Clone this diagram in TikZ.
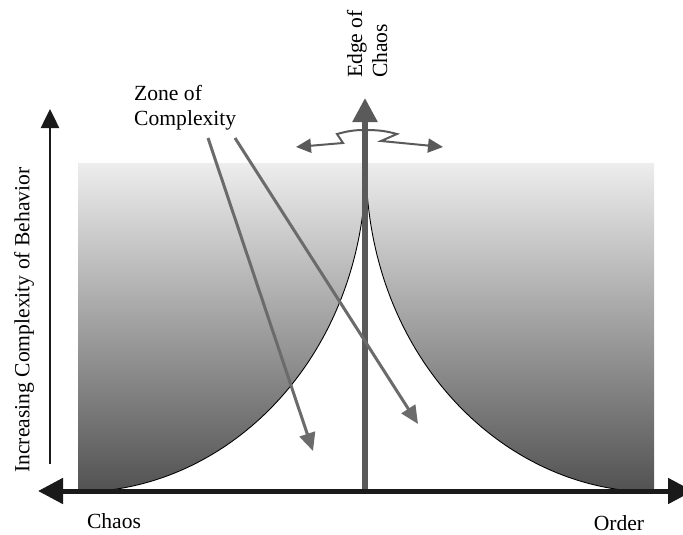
\documentclass[tikz,border=0pt]{standalone}
\usepackage{fontspec}
\setmainfont{Liberation Serif}
\usetikzlibrary{arrows.meta}
\definecolor{cgray}{HTML}{5A5A5A}
\definecolor{dgray}{HTML}{6B6B6B}
\definecolor{axisblack}{HTML}{1A1A1A}
\begin{document}
\begin{tikzpicture}[x=1pt,y=-1pt,
  lbl/.style={font=\fontsize{21.6}{25}\selectfont, inner sep=0pt},
  curveline/.style={black, line width=0.9pt},
  diagarrow/.style={dgray, line width=3pt, -{Triangle[length=18pt,width=16pt]}},
  squig/.style={cgray, line width=2pt, -{Triangle[length=15pt,width=14pt]}}]
\useasboundingbox (0,0) rectangle (683,535);
% shaded field
\shade[top color=black!7, middle color=black!32, bottom color=black!68] (78,163) rectangle (654,492);
% coordinates
\coordinate (bl) at (78,492);
\coordinate (br) at (654,492);
\coordinate (cusp) at (366,163);
\coordinate (cbot) at (365,491);
\coordinate (ctop) at (365,98);
\coordinate (sq) at (365,130);
\coordinate (ltip) at (296,147);
\coordinate (rtip) at (443,147);
\coordinate (a1s) at (208,138);
\coordinate (a1e) at (313,451);
\coordinate (a2s) at (235,138);
\coordinate (a2e) at (418,424);
\coordinate (hl) at (38,491);
\coordinate (hr) at (693,491);
\coordinate (vb) at (50,464);
\coordinate (vt) at (50,109);
% white zone between the curves
\fill[white] (bl) .. controls (230,492) and (366,355) .. (cusp)
  .. controls (366,355) and (502,492) .. (br) -- cycle;
\draw[curveline] (bl) .. controls (230,492) and (366,355) .. (cusp);
\draw[curveline] (br) .. controls (502,492) and (366,355) .. (cusp);
% edge of chaos axis
\draw[cgray, line width=5.5pt, -{Triangle[length=24pt,width=24pt]}] (cbot) -- (ctop);
\draw[squig] (sq) to[out=180,in=15] (337,134) -- (343,143) -- (ltip);
\draw[squig] (sq) to[out=0,in=165] (397,134) -- (381,141) -- (rtip);
% zone arrows
\draw[diagarrow] (a1s) -- (a1e);
\draw[diagarrow] (a2s) -- (a2e);
% axes
\draw[axisblack, line width=5pt, {Triangle[length=25pt,width=25pt]}-{Triangle[length=25pt,width=25pt]}] (hl) -- (hr);
\draw[axisblack, line width=2.5pt, -{Triangle[length=19pt,width=18pt]}] (vb) -- (vt);
% labels
\node[lbl, rotate=90] (ylab) at (24,320) {Increasing Complexity of Behavior};
\node[lbl, rotate=90, anchor=west, align=left] (edge) at (367,78) {Edge of\\Chaos};
\node[lbl, anchor=north west, align=left] (zone) at (134,85) {Zone of\\Complexity};
\node[lbl, anchor=base] (chaos) at (114,528) {Chaos};
\node[lbl, anchor=base] (order) at (619,530) {Order};
\end{tikzpicture}
\end{document}
